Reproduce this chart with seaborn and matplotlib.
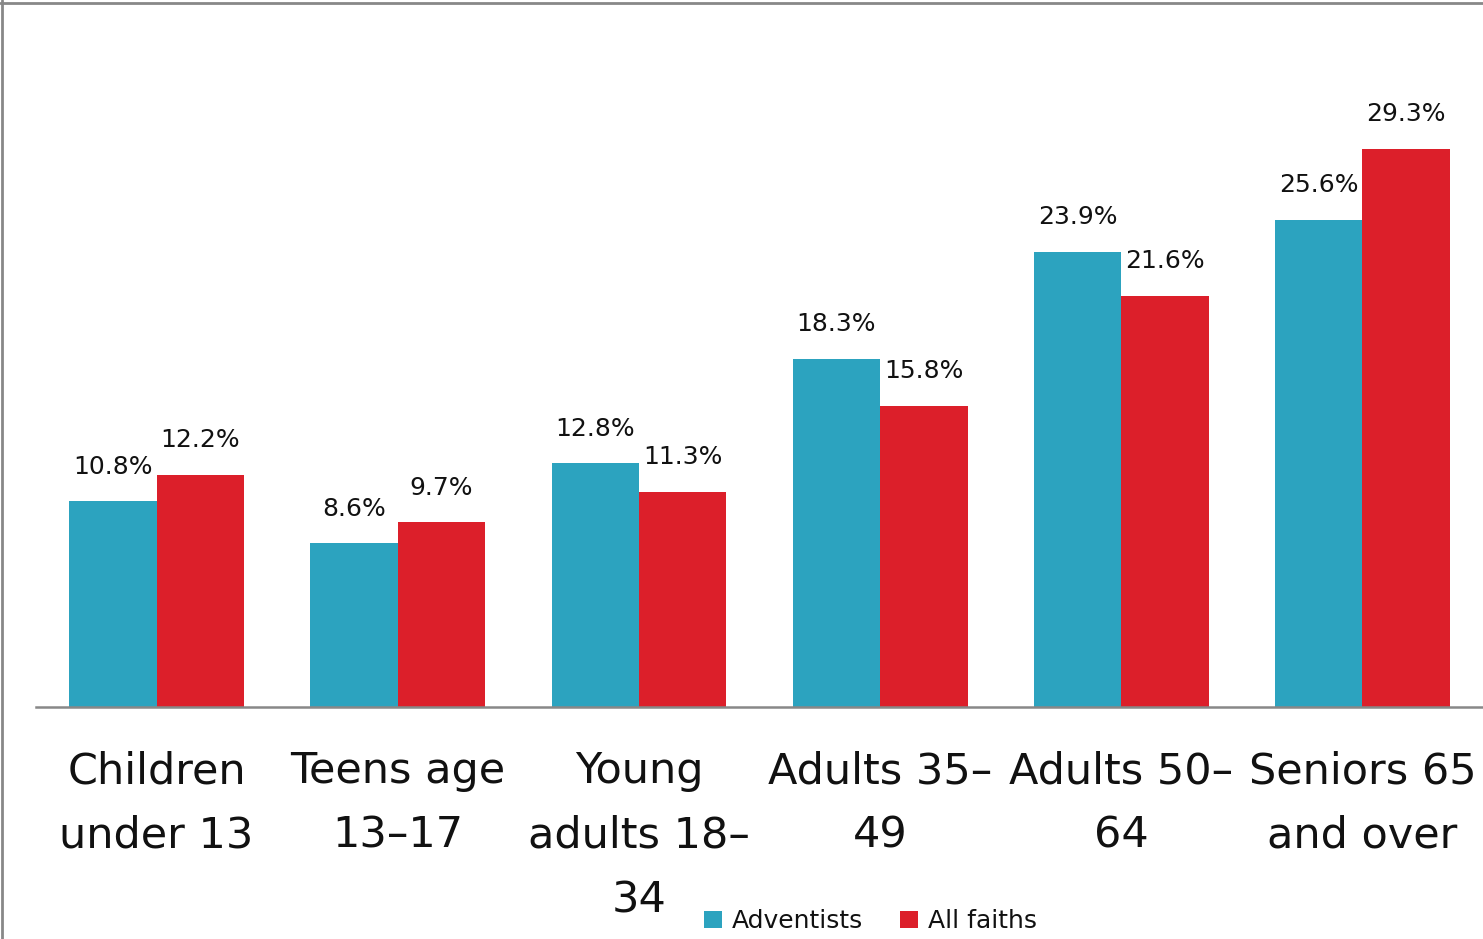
import pandas as pd
import matplotlib.pyplot as plt
import seaborn as sns
from matplotlib.lines import Line2D

# data
groups = ['Children\nunder 13', 'Teens age\n13–17', 'Young\nadults 18–\n34',
          'Adults 35–\n49', 'Adults 50–\n64', 'Seniors 65\nand over']
adventists = [10.8, 8.6, 12.8, 18.3, 23.9, 25.6]
all_faiths = [12.2, 9.7, 11.3, 15.8, 21.6, 29.3]
series = ['Adventists', 'All faiths']
colors = ['#2ca3bf', '#dc1f2a']

df = pd.DataFrame({
    'Group': groups * 2,
    'Series': [series[0]] * len(groups) + [series[1]] * len(groups),
    'Value': adventists + all_faiths,
})

sns.set_style('white')
plt.rcParams['font.family'] = ['DejaVu Sans']

fig = plt.figure(figsize=(14.83, 9.39), dpi=100)
ax = fig.add_axes([0.0243, 0.247, 0.9757, 0.753])

sns.barplot(data=df, x='Group', y='Value', hue='Series', order=groups,
            hue_order=series, palette=colors, width=0.725, linewidth=0,
            saturation=1, ax=ax)

# value labels above each bar
for cont in ax.containers:
    for bar in cont:
        h = bar.get_height()
        ax.annotate(f'{h:.1f}%', (bar.get_x() + bar.get_width() / 2, h),
                    xytext=(0, 25), textcoords='offset points',
                    ha='center', va='center', fontsize=18, color='#111111')

ax.set_xlim(-0.5, 5.5)
ax.set_ylim(0, 37.13)
ax.set_xlabel('')
ax.set_ylabel('')
ax.set_yticks([])
ax.set_xticks(range(len(groups)))
ax.set_xticklabels(groups, linespacing=1.68)
ax.tick_params(axis='x', length=0, pad=31, labelsize=31, labelcolor='#111111')
for s in ['top', 'right', 'left']:
    ax.spines[s].set_visible(False)
ax.spines['bottom'].set_color('#888888')
ax.spines['bottom'].set_linewidth(1.8)

leg = ax.legend(loc='center', bbox_to_anchor=(0.587, 0.019), bbox_transform=fig.transFigure,
                ncol=2, frameon=False, fontsize=18, handlelength=0.7, handleheight=0.7,
                handletextpad=0.4, columnspacing=1.5)
for t in leg.get_texts():
    t.set_color('#111111')

# partial outer frame (top and left edges)
fig.add_artist(Line2D([0.0, 1.0], [0.9965, 0.9965], color='#888888', lw=2, transform=fig.transFigure))
fig.add_artist(Line2D([0.0012, 0.0012], [0.0, 1.0], color='#888888', lw=2, transform=fig.transFigure))

fig.savefig('out.png', dpi=100)
